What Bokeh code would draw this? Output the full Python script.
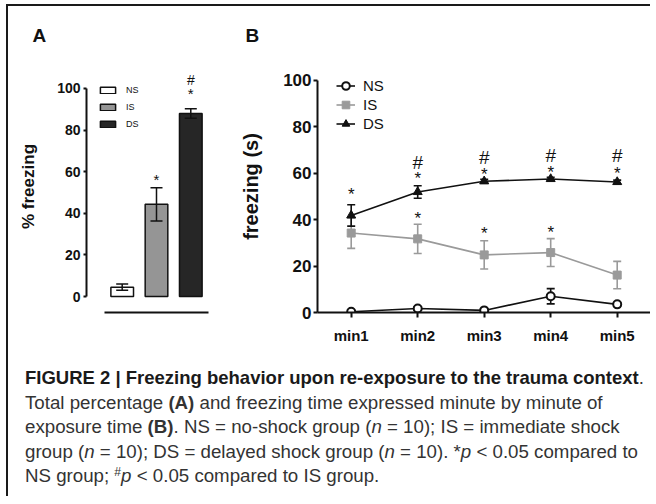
from bokeh.plotting import figure
from bokeh.models import (Range1d, FixedTicker, Whisker, TeeHead, ColumnDataSource,
                          Legend, LegendItem, Div)
from bokeh.layouts import column, row
from bokeh.embed import file_html
from bokeh.resources import INLINE
from bokeh.core.properties import value

FONT = "Liberation Sans"

# ---------------- Panel A data ----------------
groups = ["NS", "IS", "DS"]
pct_mean = [4.5, 44.3, 88.0]
pct_sem = [1.5, 8.0, 2.3]
bar_colors = ["white", "#959595", "#262626"]
a_ticks = [0, 20, 40, 60, 80, 100]

a_star_group = ["IS", "DS"]
a_star_y = [56.2, 97.5]
a_hash_group = ["DS"]
a_hash_y = [104.1]

# ---------------- Panel B data ----------------
minutes = ["min1", "min2", "min3", "min4", "min5"]
ns_mean = [0.3, 1.7, 0.9, 7.0, 3.5]
ns_sem = [0.4, 0.6, 0.5, 3.3, 0.8]
is_mean = [34.2, 31.7, 24.8, 25.8, 16.1]
is_sem = [6.6, 6.3, 6.1, 6.0, 5.9]
ds_mean = [41.8, 51.9, 56.5, 57.5, 56.2]
ds_sem = [4.6, 2.7, 0.8, 0.7, 0.8]
b_ticks = [0, 20, 40, 60, 80, 100]

b_star_min = ["min1", "min2", "min2", "min3", "min3", "min4", "min4", "min5"]
b_star_y = [50.8, 57.5, 40.3, 59.4, 33.8, 60.4, 34.5, 59.8]
b_hash_min = ["min2", "min3", "min4", "min5"]
b_hash_y = [64.7, 66.9, 67.6, 67.6]


def style_common(p, letter, offset):
    p.outline_line_color = None
    p.xgrid.visible = False
    p.ygrid.visible = False
    p.background_fill_color = "white"
    p.border_fill_color = "white"
    p.title.text = letter
    p.title.align = "left"
    p.title.offset = offset
    p.title.standoff = 29
    p.title.text_font = FONT
    p.title.text_font_size = "19px"
    p.title.text_font_style = "bold"
    p.title.text_color = "#111111"


def style_axis(a, font_size, tick_out, standoff):
    a.axis_line_width = 2
    a.axis_line_color = "#111111"
    a.major_tick_line_width = 2
    a.major_tick_line_color = "#111111"
    a.major_tick_out = tick_out
    a.major_tick_in = 0
    a.minor_tick_line_color = None
    a.major_label_text_font = FONT
    a.major_label_text_font_size = font_size
    a.major_label_text_font_style = "bold"
    a.major_label_text_color = "#111111"
    a.major_label_standoff = standoff


# ================= Panel A =================
xa = [groups.index(g) + 1 for g in groups]
pA = figure(frame_width=126, frame_height=252, min_border_left=78, min_border_right=3,
            min_border_top=54, min_border_bottom=38,
            x_range=Range1d(-0.041, 3.633), y_range=Range1d(-7.69, 113.46),
            output_backend="svg", toolbar_location=None, tools="")
style_common(pA, "A", -54)

bars = pA.vbar(x=xa, top=pct_mean, bottom=0, width=0.66, fill_color=bar_colors,
               line_color="#111111", line_width=1.5)

srcA = ColumnDataSource(dict(x=xa,
                             upper=[m + s for m, s in zip(pct_mean, pct_sem)],
                             lower=[m - s for m, s in zip(pct_mean, pct_sem)]))
wA = Whisker(base="x", upper="upper", lower="lower", source=srcA, dimension="height",
             line_color="#111111", line_width=1.5, level="annotation",
             upper_head=TeeHead(size=12, line_width=1.5, line_color="#111111"),
             lower_head=TeeHead(size=12, line_width=1.5, line_color="#111111"))
pA.add_layout(wA)

pA.text(x=[groups.index(g) + 1 for g in a_star_group], y=a_star_y, text=["*"] * len(a_star_y),
        text_align="center", text_baseline="alphabetic", text_font=value(FONT),
        text_font_size="15px", text_color="#111111")
pA.text(x=[groups.index(g) + 1 for g in a_hash_group], y=a_hash_y, text=["#"] * len(a_hash_y),
        text_align="center", text_baseline="alphabetic", text_font=value(FONT),
        text_font_size="14px", text_color="#111111")

ax = pA.yaxis[0]
ax.ticker = FixedTicker(ticks=a_ticks)
ax.bounds = (0, 100)
style_axis(ax, "14px", 3, 3)
ax.axis_label = "% freezing"
ax.axis_label_text_font = FONT
ax.axis_label_text_font_size = "17px"
ax.axis_label_text_font_style = "bold"
ax.axis_label_text_color = "#111111"
ax.axis_label_standoff = 16

bx = pA.xaxis[0]
bx.ticker = FixedTicker(ticks=[])
bx.bounds = (0.484, 3.516)
style_axis(bx, "14px", 0, 0)
bx.major_tick_line_color = None

legA = Legend(items=[LegendItem(label=g, renderers=[bars], index=i) for i, g in enumerate(groups)],
              location=(12, 183), orientation="vertical",
              glyph_width=19, glyph_height=8, label_height=8, spacing=7, padding=0, margin=0,
              label_standoff=9, label_text_font=FONT, label_text_font_size="9px",
              label_text_color="#111111", border_line_alpha=0, background_fill_alpha=0)
pA.add_layout(legA)

# ================= Panel B =================
xb = [minutes.index(m) + 1 for m in minutes]
pB = figure(frame_width=333, frame_height=252, min_border_left=102, min_border_right=0,
            min_border_top=54, min_border_bottom=38,
            x_range=Range1d(0.4932, 5.5008), y_range=Range1d(0, 108.5),
            output_backend="svg", toolbar_location=None, tools="")
style_common(pB, "B", -72)

series = [
    ("IS", is_mean, is_sem, "#9a9a9a", "square", 8, "#9a9a9a"),
    ("NS", ns_mean, ns_sem, "#111111", "circle", 8, "white"),
    ("DS", ds_mean, ds_sem, "#111111", "triangle", 9, "#111111"),
]
rends = {}
for name, mean, sem, col, mk, sz, fill in series:
    src = ColumnDataSource(dict(x=xb, upper=[m + s for m, s in zip(mean, sem)],
                                lower=[m - s for m, s in zip(mean, sem)]))
    w = Whisker(base="x", upper="upper", lower="lower", source=src, dimension="height",
                line_color=col, line_width=1.6, level="underlay",
                upper_head=TeeHead(size=8, line_width=1.6, line_color=col),
                lower_head=TeeHead(size=8, line_width=1.6, line_color=col))
    pB.add_layout(w)
    ln = pB.line(xb, mean, line_color=col, line_width=1.6)
    pt = pB.scatter(xb, mean, marker=mk, size=sz, fill_color=fill, line_color=col,
                    line_width=2 if mk == "circle" else 1)
    rends[name] = [ln, pt]

pB.text(x=[minutes.index(m) + 1 for m in b_star_min], y=b_star_y, text=["*"] * len(b_star_y),
        text_align="center", text_baseline="alphabetic", text_font=value(FONT),
        text_font_size="17px", text_color="#111111")
pB.text(x=[minutes.index(m) + 1 for m in b_hash_min], y=b_hash_y, text=["#"] * len(b_hash_y),
        text_align="center", text_baseline="alphabetic", text_font=value(FONT),
        text_font_size="19px", text_color="#111111")

ay = pB.yaxis[0]
ay.ticker = FixedTicker(ticks=b_ticks)
ay.bounds = (0, 100)
style_axis(ay, "17px", 4, 2)
ay.axis_label = "freezing (s)"
ay.axis_label_text_font = FONT
ay.axis_label_text_font_size = "20px"
ay.axis_label_text_font_style = "bold"
ay.axis_label_text_color = "#111111"
ay.axis_label_standoff = 18

axb = pB.xaxis[0]
axb.ticker = FixedTicker(ticks=xb)
axb.major_label_overrides = {i: m for i, m in zip(xb, minutes)}
style_axis(axb, "15px", 5, 9)

legB = Legend(items=[LegendItem(label=n, renderers=rends[n]) for n in ["NS", "IS", "DS"]],
              location=(19, 179), orientation="vertical",
              glyph_width=19, glyph_height=19, label_height=19, spacing=0, padding=0, margin=0,
              label_standoff=8, label_text_font=FONT, label_text_font_size="15px",
              label_text_color="#111111", border_line_alpha=0, background_fill_alpha=0)
pB.add_layout(legB)

# ================= Caption =================
caption_html = (
    "<b style='color:#1a1a1a;font-size:18.5px'>FIGURE 2 | Freezing behavior upon re-exposure to the trauma context</b>.<br>"
    "Total percentage <b>(A)</b> and freezing time expressed minute by minute of<br>"
    "exposure time <b>(B)</b>. NS = no-shock group (<i>n</i> = 10); IS = immediate shock<br>"
    "group (<i>n</i> = 10); DS = delayed shock group (<i>n</i> = 10). *<i>p</i> &lt; 0.05 compared to<br>"
    "NS group; <span style='font-size:0.65em;vertical-align:0.5em;line-height:0'>#</span><i>p</i> &lt; 0.05 compared to IS group."
)
cap = Div(text=caption_html, width=640, height=146, margin=0,
          styles={"font-family": "'Liberation Sans', Arial, sans-serif", "font-size": "18.7px",
                  "line-height": "24.6px", "padding-top": "16px", "padding-left": "17px",
                  "white-space": "nowrap", "color": "#333333", "box-sizing": "border-box"})

layout = column(row(pA, pB, spacing=0), cap, spacing=0, margin=(4, 0, 0, 6),
                styles={"border-top": "2px solid #1a1a1a", "border-left": "2px solid #1a1a1a"})

open("out.html", "w").write(file_html(layout, INLINE))
